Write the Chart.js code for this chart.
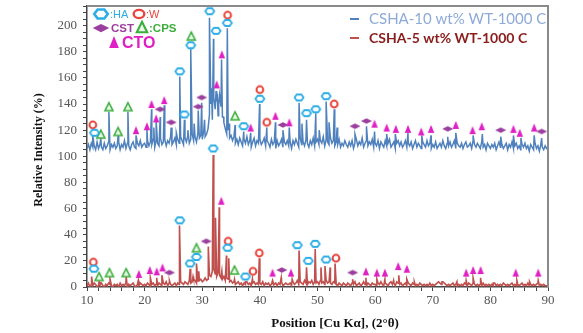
<!DOCTYPE html>
<html>
<head>
<meta charset="utf-8">
<script src="https://cdn.jsdelivr.net/npm/chart.js@4.4.1/dist/chart.umd.min.js"></script>
<style>
  html, body { margin: 0; padding: 0; background: #fff; }
  #wrap { width: 583px; height: 333px; }
</style>
</head>
<body>
<div id="wrap"><canvas id="xrd" width="583" height="333"></canvas></div>
<script>
// XRD patterns, 2theta from 10 to 90 in 0.25 deg steps
const startAngle = 10;
const angleStep = 0.25;
const xTicks = [10, 20, 30, 40, 50, 60, 70, 80, 90];
const yTicks = [0, 20, 40, 60, 80, 100, 120, 140, 160, 180, 200];

// background (noise) of CSHA-10 (offset pattern)
const blueBase = [
  106,109,105,110,107,108,105,111,106,109,107,105,110,106,108,111,105,109,107,110,
  106,108,111,105,109,107,112,106,110,108,105,109,111,107,106,110,108,112,107,109,
  110,107,112,108,111,109,113,107,112,110,108,114,109,111,113,108,112,110,115,109,
  111,114,109,113,110,115,112,109,114,111,116,110,113,117,112,115,111,118,114,116,
  113,119,115,117,121,132,140,128,145,136,142,131,147,138,130,126,121,117,120,114,
  116,112,115,110,113,109,114,111,108,113,110,115,109,112,107,111,114,108,112,110,
  113,109,111,114,108,112,110,107,113,109,111,106,112,108,110,113,107,111,109,112,
  108,111,106,112,109,113,110,107,114,109,111,108,113,110,107,112,109,114,108,111,
  113,109,112,110,115,108,113,111,109,114,110,112,108,111,109,113,107,110,108,112,
  109,107,111,108,112,106,110,113,108,111,109,114,107,110,112,108,111,109,113,107,
  110,108,112,106,111,109,107,112,108,110,113,107,109,111,106,110,112,108,111,107,
  109,112,107,110,108,111,106,109,112,107,110,108,106,111,109,107,112,108,110,106,
  109,107,111,106,108,110,107,112,108,106,110,108,111,107,109,112,106,110,108,107,
  110,106,109,111,107,108,110,106,112,109,107,110,108,106,111,107,109,105,110,108,
  106,109,107,110,105,108,111,107,109,106,108,110,105,109,107,111,106,108,110,106,
  108,105,109,107,110,106,108,104,109,107,105,110,106,108,104,109,107,105,108,106,
  107
];
const bluePeakX = [11.0, 12.4, 13.8, 15.4, 17.1, 18.5, 20.4, 21.2, 21.6, 22.0, 22.7, 23.4, 24.6, 25.5,
  26.1, 26.9, 27.5, 28.0, 28.6, 29.3, 29.9, 30.4, 31.25, 31.6, 31.95, 32.4, 32.6, 32.85, 33.35, 33.7,
  34.35, 34.7, 35.7, 37.2, 38.4, 39.95, 41.2, 42.7, 44.0, 45.1, 46.8, 47.3, 48.1, 49.7, 50.3, 51.5,
  52.0, 52.9, 53.4, 56.5, 58.5, 59.9, 62.0, 63.5, 65.7, 68.1, 69.7, 72.6, 74.0, 77.0, 78.6, 81.8,
  84.0, 85.3, 87.6, 88.9];
const bluePeakY = [116, 114, 134, 116, 134, 116, 121, 136, 122, 127, 130, 139, 122, 118,
  161, 128, 120, 183, 125, 135, 141, 128, 206, 152, 190, 150, 148, 140, 174, 130,
  198, 125, 124, 119, 118, 140, 122, 126, 120, 122, 141, 125, 128, 133, 120, 142,
  126, 136, 122, 117, 123, 119, 117, 117, 118, 116, 116, 115, 118, 116, 117, 115,
  116, 114, 116, 114];

// background (noise) of CSHA-5
const redBase = [
  1,3,0,2,1,3,2,0,1,2,3,1,0,2,1,3,2,1,0,2,
  1,2,0,3,1,2,1,3,0,2,1,2,3,1,0,2,1,3,2,1,
  2,1,3,2,0,2,3,1,2,1,3,2,1,3,2,4,1,3,2,1,
  2,3,1,3,2,4,3,2,4,3,2,5,3,4,6,5,3,4,5,6,
  4,5,7,5,6,9,8,12,14,10,8,11,9,7,6,8,5,7,6,4,
  5,3,4,2,3,4,2,3,1,3,2,4,2,3,1,3,4,2,3,2,
  3,2,4,1,3,2,3,1,2,4,2,3,1,3,2,4,1,2,3,2,
  2,3,1,4,2,3,5,2,4,3,2,5,3,2,4,3,5,2,4,3,
  4,2,5,3,4,2,5,3,4,3,2,4,3,2,1,3,2,1,3,2,
  1,3,2,1,3,2,4,1,2,3,1,2,4,2,1,3,2,1,3,2,
  2,1,3,2,4,2,1,3,2,1,3,4,2,3,1,4,3,2,3,1,
  2,3,1,3,2,1,3,2,1,2,1,3,2,1,2,1,2,1,3,1,
  2,1,2,3,4,3,2,4,3,2,1,2,1,2,3,1,2,1,2,1,
  2,1,3,2,1,3,2,1,3,2,1,2,1,2,1,3,1,2,1,2,
  1,2,1,3,1,2,1,2,1,3,2,1,2,1,2,3,1,2,1,2,
  1,2,3,1,2,1,3,1,2,1,2,1,2,3,1,2,1,2,1,1,
  1
];
const redPeakX = [10.8, 12.1, 14.0, 16.8, 18.9, 21.0, 22.1, 23.0, 24.3, 26.05, 27.9, 28.4, 29.0, 29.4,
  31.05, 31.9, 32.3, 32.95, 33.4, 34.2, 34.6, 35.6, 37.5, 38.7, 39.9, 42.2, 43.7, 45.6, 46.8, 48.1,
  49.6, 50.6, 51.3, 52.2, 53.05, 56.1, 58.4, 60.3, 61.7, 63.2, 64.1, 65.5, 66.8, 71.6, 74.2, 75.8,
  77.0, 78.3, 80.5, 84.6, 86.8, 88.3];
const redPeakY = [8, 4, 6, 8, 5, 7, 7, 9, 5, 47, 14, 8, 18, 12,
  31, 101, 53, 61, 12, 24, 22, 6, 4, 6, 22, 5, 7, 6, 28, 15,
  29, 15, 16, 15, 18, 6, 7, 6, 6, 5, 9, 6, 4, 4, 4, 5,
  7, 7, 3, 5, 4, 5];

// phase markers  (HA, W, CST, CPS, CTO)
const haX = [11.3, 26.1, 26.9, 28.0, 31.3, 32.4, 34.35, 37.2, 40.0, 46.8, 48.1, 49.7, 51.5,
  11.2, 26.1, 27.9, 29.0, 31.9, 34.4, 37.5, 46.5, 48.4, 49.6, 51.5];
const haY = [118, 165, 132, 185, 211, 196, 202, 123, 144, 145, 133, 136, 146,
  14, 51, 18, 23, 106, 30, 8, 32, 20, 33, 21];
const wX = [11.0, 34.4, 40.0, 41.2, 52.9, 11.1, 34.5, 38.8, 39.9, 53.2];
const wY = [124, 208, 151, 126, 140, 19, 35, 12, 26, 22];
const cstX = [22.7, 24.6, 29.3, 29.9, 44.0, 56.5, 58.5, 72.6, 81.8, 88.9,
  24.3, 30.7, 43.8, 56.1];
const cstY = [136, 126, 138, 145, 124, 123, 127, 121, 120, 119,
  11, 35, 13, 11];
const cpsX = [12.4, 13.8, 15.4, 17.1, 28.1, 35.7, 12.1, 13.9, 16.8, 29.0, 35.6];
const cpsY = [117, 138, 119, 138, 192, 131, 8, 11, 11, 30, 13];
const ctoX = [18.5, 20.4, 21.2, 22.0, 23.4, 32.5, 33.4, 38.4, 42.7, 45.1, 59.9, 62.0, 63.6, 65.7,
  68.0, 69.7, 74.0, 76.9, 78.5, 84.0, 85.1, 87.6,
  19.0, 20.9, 22.1, 23.1, 33.3, 42.2, 45.4, 58.4, 60.3, 61.7, 64.0, 65.5, 75.8, 77.0, 78.3, 84.4, 88.3];
const ctoY = [120, 123, 140, 129, 143, 155, 178, 122, 131, 126, 125, 122, 121, 121,
  119, 121, 124, 120, 123, 121, 118, 122,
  10, 13, 12, 15, 66, 11, 11, 12, 11, 11, 16, 14, 11, 13, 13, 11, 11];

const colHA = '#2eaee6', colW = '#e8453c', colCST = '#9b3f9e', colCPS = '#3cae3c', colCTO = '#e020c4';

function buildPattern(base, px, py) {
  const pts = base.map((y, i) => ({ x: startAngle + i * angleStep, y: y }));
  px.forEach((x, i) => pts.push({ x: x, y: py[i] }));
  pts.sort((a, b) => a.x - b.x);
  return pts;
}
function toPoints(xs, ys) {
  return xs.map((x, i) => ({ x: x, y: ys[i] }));
}

// marker shapes
function shapeHA(ctx, cx, cy, w, h) {
  ctx.beginPath();
  ctx.moveTo(cx - w / 2, cy);
  ctx.lineTo(cx - w / 4, cy - h / 2);
  ctx.lineTo(cx + w / 4, cy - h / 2);
  ctx.lineTo(cx + w / 2, cy);
  ctx.lineTo(cx + w / 4, cy + h / 2);
  ctx.lineTo(cx - w / 4, cy + h / 2);
  ctx.closePath();
}
function shapeDiamond(ctx, cx, cy, w, h) {
  ctx.beginPath();
  ctx.moveTo(cx - w / 2, cy);
  ctx.lineTo(cx, cy - h / 2);
  ctx.lineTo(cx + w / 2, cy);
  ctx.lineTo(cx, cy + h / 2);
  ctx.closePath();
}
function shapeTri(ctx, cx, cy, w, h) {
  ctx.beginPath();
  ctx.moveTo(cx, cy - h / 2);
  ctx.lineTo(cx + w / 2, cy + h / 2);
  ctx.lineTo(cx - w / 2, cy + h / 2);
  ctx.closePath();
}
function drawMarker(ctx, kind, cx, cy, s) {
  ctx.save();
  if (kind === 'HA') {
    shapeHA(ctx, cx, cy, 9 * s, 6 * s);
    ctx.fillStyle = '#fff'; ctx.fill();
    ctx.lineWidth = 1.8 * s; ctx.strokeStyle = colHA; ctx.stroke();
  } else if (kind === 'W') {
    ctx.beginPath(); ctx.ellipse(cx, cy, 3.4 * s * (s > 1 ? 1.3 : 1), 3.4 * s, 0, 0, Math.PI * 2);
    ctx.fillStyle = '#fff'; ctx.fill();
    ctx.lineWidth = 2 * s; ctx.strokeStyle = colW; ctx.stroke();
  } else if (kind === 'CST') {
    shapeDiamond(ctx, cx, cy, 11 * s, 5.5 * s);
    ctx.fillStyle = colCST; ctx.fill();
  } else if (kind === 'CPS') {
    shapeTri(ctx, cx, cy, 8 * s, 8 * s);
    ctx.fillStyle = '#e8f8e8'; ctx.fill();
    ctx.lineWidth = 1.6 * s; ctx.strokeStyle = colCPS; ctx.stroke();
  } else {
    shapeTri(ctx, cx, cy, 6.5 * s, 8 * s);
    ctx.fillStyle = colCTO; ctx.fill();
  }
  ctx.restore();
}
function markerCanvas(kind) {
  const c = document.createElement('canvas');
  c.width = 14; c.height = 12;
  drawMarker(c.getContext('2d'), kind, 7, 6, 1);
  return c;
}

function markerSet(xs, ys, kind) {
  return {
    type: 'scatter',
    data: toPoints(xs, ys),
    pointStyle: markerCanvas(kind),
    pointRadius: 5,
    showLine: false,
    order: 0
  };
}

const framePlugin = {
  id: 'frame',
  afterDraw(chart) {
    const ctx = chart.ctx;
    const a = chart.chartArea;
    ctx.save();
    ctx.strokeStyle = '#8a8a8a';
    ctx.lineWidth = 2;
    ctx.beginPath();
    ctx.moveTo(a.left, a.top);
    ctx.lineTo(a.right, a.top);
    ctx.lineTo(a.right, a.bottom);
    ctx.stroke();

    // series legend (top right)
    ctx.textBaseline = 'alphabetic';
    ctx.lineWidth = 2;
    ctx.strokeStyle = '#4f81bd';
    ctx.beginPath(); ctx.moveTo(350, 19); ctx.lineTo(359, 19); ctx.stroke();
    ctx.strokeStyle = '#c0504d';
    ctx.beginPath(); ctx.moveTo(350, 38); ctx.lineTo(359, 38); ctx.stroke();
    ctx.font = '15px Lato';
    ctx.fillStyle = '#8eaad8';
    ctx.fillText('CSHA-10 wt% WT-1000 C', 369, 24);
    ctx.font = 'bold 14px Lato';
    ctx.fillStyle = '#8a1c1c';
    ctx.fillText('CSHA-5 wt% WT-1000 C', 369, 43);

    // phase legend (top left)
    drawMarker(ctx, 'HA', 101, 14, 1.5);
    ctx.font = '11px "Liberation Sans"';
    ctx.fillStyle = colHA;
    ctx.fillText(':HA', 110, 18);
    drawMarker(ctx, 'W', 139, 14, 1.2);
    ctx.fillStyle = colW;
    ctx.fillText(':W', 146, 18);
    drawMarker(ctx, 'CST', 101, 28, 1.5);
    ctx.font = 'bold 11.5px "Liberation Sans"';
    ctx.fillStyle = colCST;
    ctx.fillText('CST', 111, 32);
    drawMarker(ctx, 'CPS', 142, 27, 1.3);
    ctx.font = 'bold 11.5px "Liberation Sans"';
    ctx.fillStyle = colCPS;
    ctx.fillText(':CPS', 149, 32);
    drawMarker(ctx, 'CTO', 114, 42, 1.5);
    ctx.font = 'bold 16px "Liberation Sans"';
    ctx.fillStyle = colCTO;
    ctx.fillText('CTO', 122, 48);

    // axis titles
    ctx.fillStyle = '#111';
    ctx.font = 'bold 13px "Liberation Serif"';
    ctx.textAlign = 'center';
    ctx.fillText('Position [Cu K\u03B1], (2\u00B0\u03B8)', 335, 327);
    ctx.translate(42, 150);
    ctx.rotate(-Math.PI / 2);
    ctx.font = 'bold 12px "Liberation Serif"';
    ctx.fillText('Relative Intensity (%)', 0, 0);
    ctx.restore();
  }
};

const tickFont = { family: 'Liberation Serif', size: 13 };

new Chart(document.getElementById('xrd'), {
  type: 'line',
  data: {
    datasets: [
      markerSet(haX, haY, 'HA'),
      markerSet(wX, wY, 'W'),
      markerSet(cstX, cstY, 'CST'),
      markerSet(cpsX, cpsY, 'CPS'),
      markerSet(ctoX, ctoY, 'CTO'),
      {
        label: 'CSHA-10 wt% WT-1000 C',
        data: buildPattern(blueBase, bluePeakX, bluePeakY),
        borderColor: '#4f81bd',
        borderWidth: 1.5,
        pointRadius: 0,
        tension: 0,
        order: 10
      },
      {
        label: 'CSHA-5 wt% WT-1000 C',
        data: buildPattern(redBase, redPeakX, redPeakY),
        borderColor: '#c0504d',
        borderWidth: 1.6,
        pointRadius: 0,
        tension: 0,
        order: 9
      }
    ]
  },
  options: {
    responsive: false,
    animation: false,
    layout: { padding: { left: 0, right: 35, top: 5, bottom: 0 } },
    plugins: {
      legend: { display: false },
      tooltip: { enabled: false }
    },
    scales: {
      x: {
        type: 'linear',
        min: 10,
        max: 90,
        afterFit: s => { s.height = 46; s.paddingLeft = 0; s.paddingRight = 0; },
        ticks: {
          stepSize: 2,
          autoSkip: false,
          maxRotation: 0,
          font: tickFont,
          color: '#555',
          padding: 2,
          callback: v => xTicks.includes(v) ? String(v) : ''
        },
        grid: { drawOnChartArea: false, drawTicks: true, tickLength: 4, color: '#444' },
        border: { color: '#444', width: 1.5 }
      },
      y: {
        min: 0,
        max: 215,
        afterFit: s => { s.width = 87; s.paddingTop = 0; s.paddingBottom = 0; },
        ticks: {
          stepSize: 5,
          autoSkip: false,
          font: tickFont,
          color: '#555',
          padding: 6,
          callback: v => yTicks.includes(v) ? String(v) : ''
        },
        grid: { drawOnChartArea: false, drawTicks: true, tickLength: 4, color: '#444' },
        border: { color: '#444', width: 1.5 }
      }
    }
  },
  plugins: [framePlugin]
});
</script>
</body>
</html>
